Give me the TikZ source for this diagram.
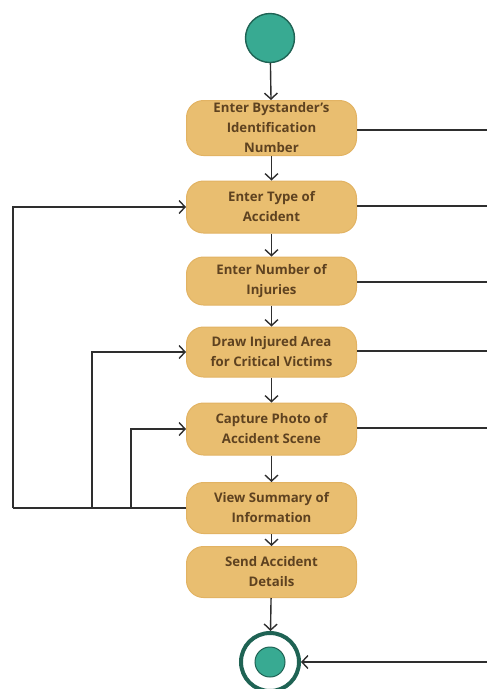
\documentclass[tikz,border=0pt]{standalone}
\usepackage{fontspec}
\setmainfont{Open Sans}
\usetikzlibrary{arrows.meta}
\definecolor{actfill}{HTML}{E9BE70}
\definecolor{actedge}{HTML}{E2B363}
\definecolor{acttext}{HTML}{5E4220}
\definecolor{teal}{HTML}{38AA92}
\definecolor{tealdark}{HTML}{1F6354}
\definecolor{flow}{HTML}{2E2E2E}
\begin{document}
\begin{tikzpicture}[x=1pt,y=-1pt,
  action/.style={draw=actedge,line width=1pt,fill=actfill,rounded corners=17pt,
    minimum width=170pt,minimum height=50pt,align=center,text=acttext,
    font=\fontsize{13.2}{20}\selectfont\bfseries,inner sep=1pt},
  initial/.style={circle,draw=tealdark,line width=1.4pt,fill=teal,minimum size=49pt,inner sep=0pt},
  finalring/.style={circle,draw=tealdark,line width=4pt,fill=white,minimum size=58pt,inner sep=0pt},
  finaldot/.style={circle,draw=tealdark,line width=1pt,fill=teal,minimum size=30pt,inner sep=0pt},
  flowline/.style={draw=flow,line width=1.4pt},
  flowarrow/.style={flowline,-{Straight Barb[length=6pt,width=13pt,line width=1.4pt]}}]
\useasboundingbox (0,0) rectangle (487,689);
\node[initial] (start) at (270,38) {};
\node[action,minimum height=55pt] (b1) at (271.5,128) {Enter Bystander's\\Identification\\Number};
\node[action,minimum height=52pt] (b2) at (271.5,207) {Enter Type of\\Accident};
\node[action,minimum height=48pt] (b3) at (271.5,281) {Enter Number of\\Injuries};
\node[action] (b4) at (271.5,352) {Draw Injured Area\\for Critical Victims};
\node[action,minimum height=52pt] (b5) at (271.5,429) {Capture Photo of\\Accident Scene};
\node[action,minimum height=51pt] (b6) at (271.5,508) {View Summary of\\Information};
\node[action,minimum height=51pt] (b7) at (271.5,572) {Send Accident\\Details};
\node[finalring] (end) at (270,662) {};
\node[finaldot] (enddot) at (270,662) {};
% main flow
\draw[flowarrow] (start) -- (b1);
\draw[flowarrow] (b1) -- (b2);
\draw[flowarrow] (b2) -- (b3);
\draw[flowarrow] (b3) -- (b4);
\draw[flowarrow] (b4) -- (b5);
\draw[flowarrow] (b5) -- (b6);
\draw[flowarrow] (b6) -- (b7);
\draw[flowarrow] (b7) -- (end);
% exits to the right-hand side
\coordinate (r1) at (487,130);
\coordinate (r2) at (487,206);
\coordinate (r3) at (487,282);
\coordinate (r4) at (487,351);
\coordinate (r5) at (487,428);
\coordinate (r6) at (487,662);
\draw[flowline] (b1.east |- r1) -- (r1);
\draw[flowline] (b2.east |- r2) -- (r2);
\draw[flowline] (b3.east |- r3) -- (r3);
\draw[flowline] (b4.east |- r4) -- (r4);
\draw[flowline] (b5.east |- r5) -- (r5);
\draw[flowarrow] (r6) -- (end);
% loops back from the summary
\coordinate (l1) at (13,508);
\coordinate (l2) at (92,508);
\coordinate (l3) at (131,508);
\draw[flowline] (b6.west) -- (l1);
\draw[flowarrow] (l1) |- (b2.west);
\draw[flowarrow] (l2) |- (b4.west);
\draw[flowarrow] (l3) |- (b5.west);
\end{tikzpicture}
\end{document}
